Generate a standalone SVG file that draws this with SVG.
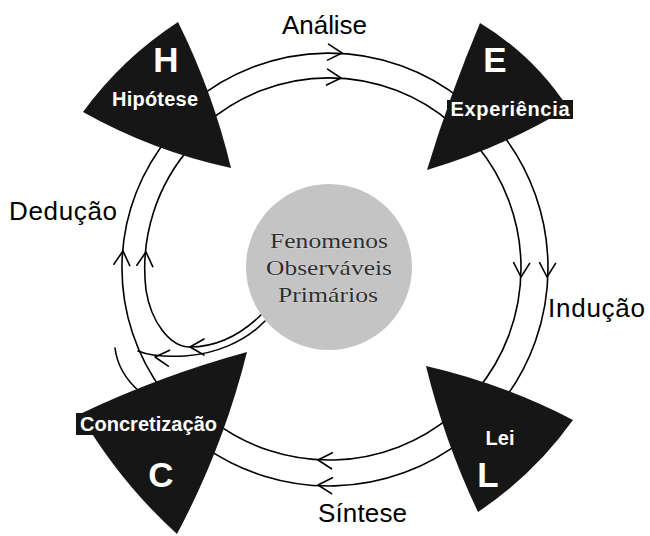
<svg xmlns="http://www.w3.org/2000/svg" width="650" height="536" viewBox="0 0 650 536">
  <defs>
    <!-- open chevron arrowhead, tip at origin, pointing along +x -->
    <path id="chev" d="M-14,-8 L0,0 L-14,8"/>
    <style>
      .ln{fill:none;stroke:#000;stroke-width:1.6;stroke-linecap:round;stroke-linejoin:round}
      .tri{fill:#161616}
      .core-disc{fill:#c4c4c4}
      .big{font-family:"Liberation Sans",Arial,sans-serif;font-weight:bold;font-size:35px;fill:#fff;text-anchor:middle}
      .lbl{font-family:"Liberation Sans",Arial,sans-serif;font-weight:bold;font-size:20px;fill:#fff;text-anchor:middle}
      .stage{font-family:"Liberation Sans",Arial,sans-serif;font-size:26px;fill:#000}
      .core{font-family:"Liberation Serif","Times New Roman",serif;font-size:21px;fill:#2e2e2e;text-anchor:middle;stroke:#e4e4e4;stroke-width:0.6;paint-order:stroke}
    </style>
  </defs>

  <rect width="650" height="536" fill="#fff"/>

  <!-- stage labels -->
  <g id="labels">
    <text class="stage" x="282" y="34" textLength="85">Análise</text>
    <text class="stage" x="9" y="220" textLength="108">Dedução</text>
    <text class="stage" x="548" y="317" textLength="97">Indução</text>
    <text class="stage" x="318" y="522" textLength="89">Síntese</text>
  </g>

  <!-- ring of connectors -->
  <g id="connectors">
    <!-- top: H -> E -->
    <path class="ln" d="M192,103 A213 213 0 0 1 463,100.5"/>
    <path class="ln" d="M205.7,124 A188 188 0 0 1 452.3,124"/>
    <!-- right: E -> L -->
    <path class="ln" d="M501.6,133.2 A219 219 0 0 1 501.6,402.8"/>
    <path class="ln" d="M476.1,144.6 A192 192 0 0 1 476.1,391.4"/>
    <!-- bottom: L -> C -->
    <path class="ln" d="M452.4,415.1 A192 192 0 0 1 213.4,421.4"/>
    <path class="ln" d="M463.2,439.8 A218 218 0 0 1 204,446.6"/>
    <!-- left: C -> H (outer) -->
    <path class="ln" d="M163.7,392.6 A207 207 0 0 1 170.4,134.9"/>
    <!-- left: core -> H (inner) -->
    <path class="ln" d="M263,313 C240,336 215,347 190,347 C170,347 151,322 146,290 A184 184 0 0 1 192.3,144.9"/>
    <!-- core -> outer left arc -->
    <path class="ln" d="M265,321 C245,342 215,354 185,356 C165,357 150,356 138,351"/>
    <!-- short arc beside C -->
    <path class="ln" d="M115,348 Q118,373 140,392"/>

    <!-- arrowheads -->
    <use href="#chev" class="ln" transform="translate(342,53) rotate(3.5)"/>
    <use href="#chev" class="ln" transform="translate(341,78) rotate(3.7)"/>
    <use href="#chev" class="ln" transform="translate(521,277) rotate(92.7)"/>
    <use href="#chev" class="ln" transform="translate(547,277) rotate(92.4)"/>
    <use href="#chev" class="ln" transform="translate(318,460) rotate(183.3)"/>
    <use href="#chev" class="ln" transform="translate(318,485) rotate(182.9)"/>
    <use href="#chev" class="ln" transform="translate(123,251) rotate(-85)"/>
    <use href="#chev" class="ln" transform="translate(146,252) rotate(-85)"/>
    <use href="#chev" class="ln" transform="translate(190,347) rotate(180)"/>
    <use href="#chev" class="ln" transform="translate(155,357) rotate(185)"/>
  </g>

  <!-- central disc -->
  <g id="core">
    <circle class="core-disc" cx="329" cy="267" r="83"/>
    <text class="core" x="329" y="248" textLength="118" lengthAdjust="spacingAndGlyphs">Fenomenos</text>
    <text class="core" x="329" y="275" textLength="126" lengthAdjust="spacingAndGlyphs">Observáveis</text>
    <text class="core" x="328" y="302" textLength="100" lengthAdjust="spacingAndGlyphs">Primários</text>
  </g>

  <!-- Hipótese -->
  <g id="node-h">
    <path class="tri" d="M178,22 Q122.2,58.3 83,112 Q152.8,151.2 231,168 Q212.8,92 178,22 Z"/>
    <text class="big" x="166" y="72">H</text>
    <text class="lbl" x="155" y="106" textLength="86">Hipótese</text>
  </g>

  <!-- Experiência -->
  <g id="node-e">
    <path class="tri" d="M480,23 Q533.7,55.4 568,108 Q501.5,148.2 427,170 Q449.7,95.1 480,23 Z"/>
    <rect class="tri" x="447" y="100" width="126" height="19"/>
    <text class="big" x="495" y="72">E</text>
    <text class="lbl" x="510" y="116" textLength="119">Experiência</text>
  </g>

  <!-- Concretização -->
  <g id="node-c">
    <path class="tri" d="M247,352 Q160.7,375.5 80,414 Q119.2,481.5 177,534 Q223.2,447.3 247,352 Z"/>
    <rect class="tri" x="76" y="413" width="145" height="22"/>
    <text class="lbl" x="148.5" y="431" textLength="137">Concretização</text>
    <text class="big" x="161" y="487">C</text>
  </g>

  <!-- Lei -->
  <g id="node-l">
    <path class="tri" d="M426,366 Q503,383.6 573,420 Q533.9,474.6 478,512 Q444.5,441.7 426,366 Z"/>
    <text class="lbl" x="500" y="445">Lei</text>
    <text class="big" x="488" y="487">L</text>
  </g>
</svg>
